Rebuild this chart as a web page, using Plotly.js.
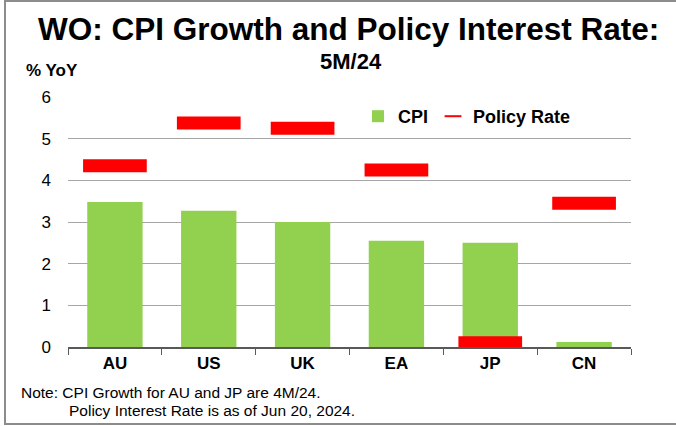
<!DOCTYPE html>
<html><head><meta charset="utf-8">
<script src="https://cdn.plot.ly/plotly-3.0.1.min.js"></script>
<style>
html,body{margin:0;padding:0;background:#fff;overflow:hidden;}
#wrap{position:relative;width:676px;height:426px;overflow:hidden;}
#chart{position:absolute;left:0;top:0;width:676px;height:426px;}
#frame{position:absolute;left:4px;top:0px;width:690px;height:421px;border:2px solid #8c8c8c;pointer-events:none;}
</style></head>
<body><div id="wrap"><div id="chart"></div><div id="frame"></div></div>
<script>
const categories = ["AU","US","UK","EA","JP","CN"];
const cpiGrowth = [3.48, 3.27, 3.0, 2.55, 2.5, 0.12];
const policyRate = [4.35, 5.375, 5.25, 4.25, 0.1, 3.45];
const yTicks = [0,1,2,3,4,5,6];

const W = 676, H = 426;
const M = {l:68, r:45, t:97, b:79};
const px = x => (x - M.l) / (W - M.l - M.r);
const py = y => (H - M.b - y) / (H - M.t - M.b);
const F = "Liberation Sans, Arial, sans-serif";

const traces = [
  {type:"bar", name:"CPI", x:categories, y:cpiGrowth,
   marker:{color:"#92d050", line:{width:0}}, hoverinfo:"skip"},
  {type:"scatter", mode:"markers", name:"Policy Rate", x:categories, y:policyRate,
   marker:{symbol:"line-ew", size:45.5, color:"#ff0000", line:{color:"#ff0000", width:13}},
   hoverinfo:"skip"}
];

const layout = {
  width:W, height:H, margin:M,
  paper_bgcolor:"rgba(0,0,0,0)", plot_bgcolor:"rgba(0,0,0,0)",
  bargap:0.41,
  showlegend:true,
  legend:{orientation:"h", x:px(358), y:py(98), xanchor:"left", yanchor:"top",
          font:{family:F, size:18, color:"#000", weight:"bold"}, bgcolor:"rgba(0,0,0,0)",
          itemwidth:30, itemsizing:"constant"},
  xaxis:{type:"category", range:[-0.5,5.5], tickson:"boundaries", ticks:"outside", ticklen:6,
         tickcolor:"#595959", showline:true, linecolor:"#595959", linewidth:1.5, showgrid:false,
         tickfont:{family:F, size:17, color:"#000", weight:"bold"}, fixedrange:true},
  yaxis:{range:[0,6], tickvals:yTicks, ticktext:yTicks.map(String), showgrid:true,
         gridcolor:"#a6a6a6", gridwidth:1, zeroline:false, showline:false, ticks:"",
         ticklabelstandoff:16,
         tickfont:{family:F, size:17, color:"#000"}, fixedrange:true},
  annotations:[
    {xref:"paper", yref:"paper", x:px(348), y:py(29), xanchor:"center", yanchor:"middle",
     text:"<b>WO: CPI Growth and Policy Interest Rate:</b>", showarrow:false,
     font:{family:F, size:31.5, color:"#000"}},
    {xref:"paper", yref:"paper", x:px(351), y:py(61), xanchor:"center", yanchor:"middle",
     text:"<b>5M/24</b>", showarrow:false, font:{family:F, size:22, color:"#000"}},
    {xref:"paper", yref:"paper", x:px(24), y:py(71), xanchor:"left", yanchor:"middle",
     text:"<b>% YoY</b>", showarrow:false, font:{family:F, size:17, color:"#000"}},
    {xref:"paper", yref:"paper", x:px(19), y:py(392), xanchor:"left", yanchor:"middle",
     text:"Note: CPI Growth for AU and JP are 4M/24.", showarrow:false,
     font:{family:F, size:15.5, color:"#000"}},
    {xref:"paper", yref:"paper", x:px(67), y:py(410), xanchor:"left", yanchor:"middle",
     text:"Policy Interest Rate is as of Jun 20, 2024.", showarrow:false,
     font:{family:F, size:15.5, color:"#000"}}
  ]
};

Plotly.newPlot("chart", traces, layout, {displayModeBar:false, staticPlot:true});
</script></body></html>
